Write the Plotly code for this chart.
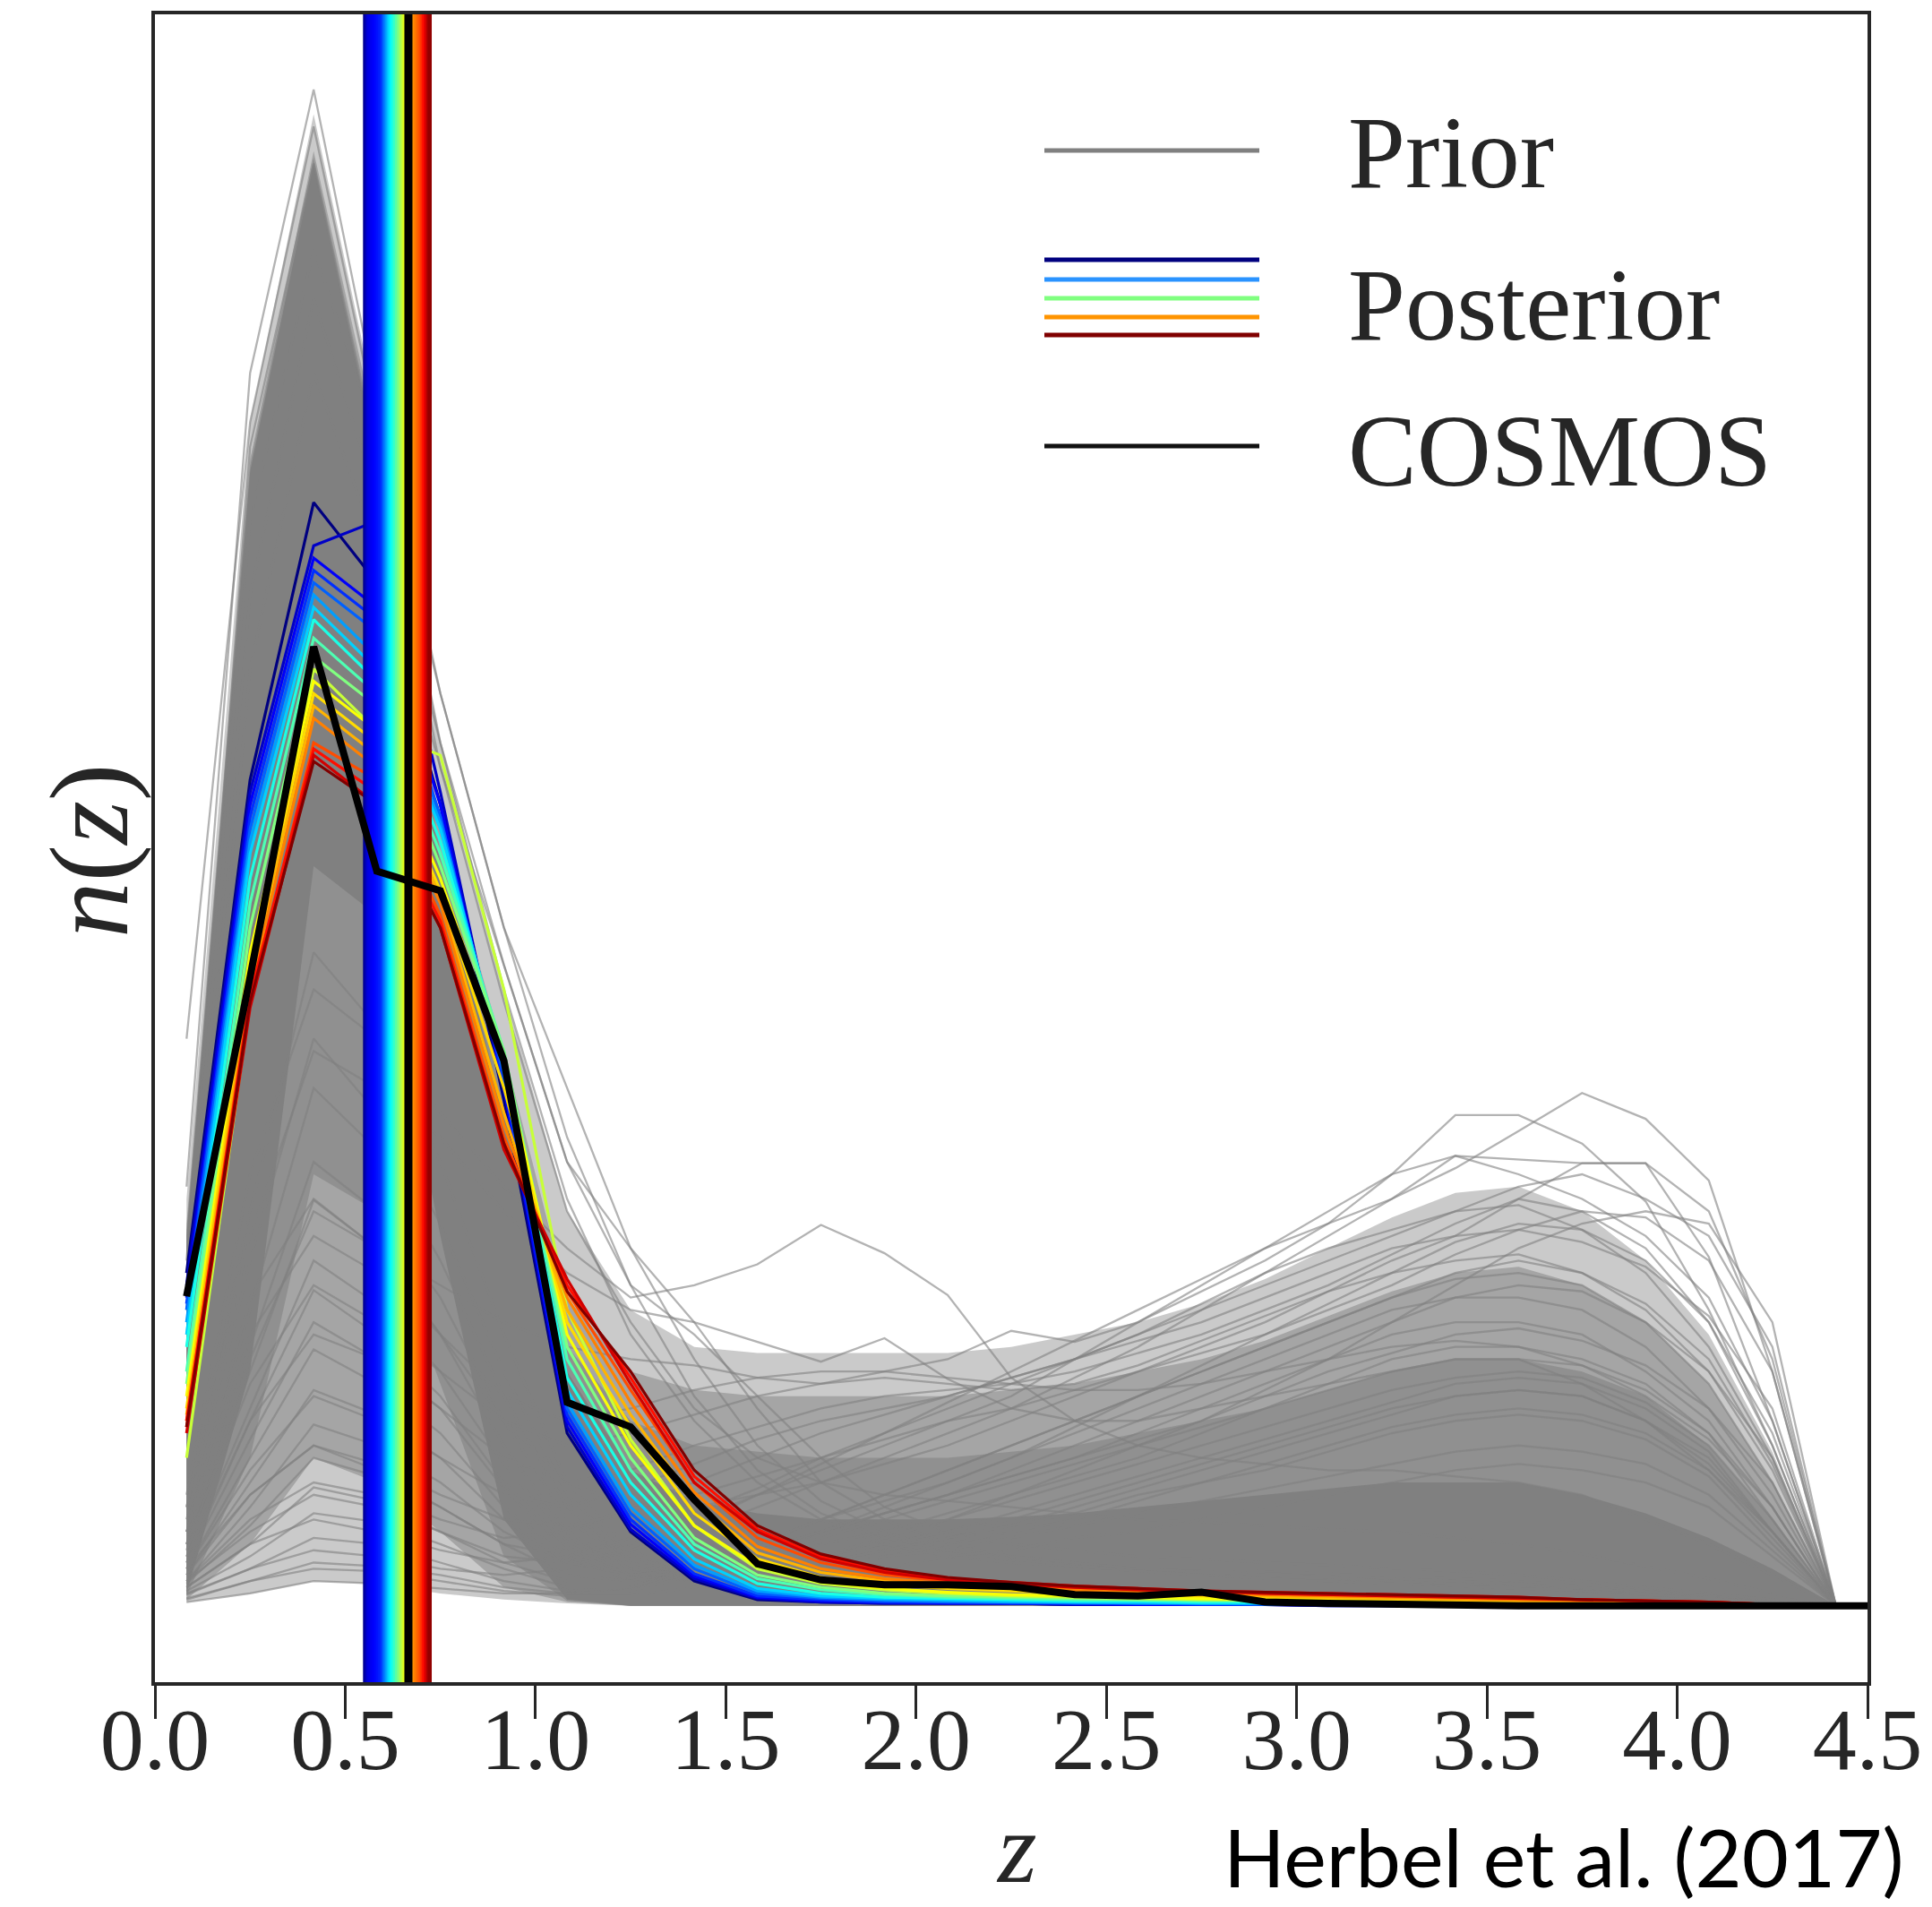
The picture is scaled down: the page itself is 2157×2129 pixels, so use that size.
import numpy as np
import plotly.graph_objects as go

# ---------------- data ----------------
z_bins = [0.083, 0.25, 0.417, 0.583, 0.75, 0.917, 1.083, 1.25, 1.417, 1.583, 1.75, 1.917,
          2.083, 2.25, 2.417, 2.583, 2.75, 2.917, 3.083, 3.25, 3.417, 3.583, 3.75, 3.917,
          4.083, 4.25, 4.417, 4.583]

cosmos_nz = [2.51, 5.1, 7.78, 5.96, 5.8, 4.42, 1.65, 1.45, 0.86, 0.34, 0.21, 0.17, 0.17, 0.155,
             0.09, 0.08, 0.11, 0.03, 0.02, 0.01, 0.01, 0.0, 0.0, 0.0, 0.0, 0.0, 0.0, 0.0]
cosmos_mean_z = 0.666

# envelopes of the prior ensemble at four densities
prior_outer_upper = [3.3, 9.6, 12.1, 9.7, 7.0, 5.0, 3.2, 2.4, 2.1, 2.05, 2.05, 2.05, 2.05, 2.1,
                     2.2, 2.3, 2.45, 2.65, 2.9, 3.15, 3.35, 3.4, 3.2, 2.8, 2.2, 1.25, 0.0, 0.0]
prior_outer_lower = [0.03, 0.1, 0.2, 0.18, 0.1, 0.05, 0.02, 0.0, 0.0, 0.0, 0.0, 0.0, 0.0, 0.0,
                     0.0, 0.0, 0.0, 0.0, 0.0, 0.0, 0.0, 0.0, 0.0, 0.0, 0.0, 0.0, 0.0, 0.0]
prior_mid_upper = [3.1, 9.3, 11.8, 9.5, 6.3, 4.5, 2.5, 1.9, 1.75, 1.7, 1.7, 1.7, 1.7, 1.75,
                   1.8, 1.9, 2.0, 2.15, 2.35, 2.55, 2.7, 2.75, 2.6, 2.3, 1.8, 1.0, 0.0, 0.0]
prior_mid_lower = [0.05, 0.5, 1.2, 1.0, 0.6, 0.15, 0.03, 0.0, 0.0, 0.0, 0.0, 0.0, 0.0, 0.0,
                   0.0, 0.0, 0.0, 0.0, 0.0, 0.0, 0.0, 0.0, 0.0, 0.0, 0.0, 0.0, 0.0, 0.0]
prior_core_upper = [3.05, 9.25, 11.75, 9.4, 6.1, 4.2, 2.1, 1.5, 1.3, 1.25, 1.2, 1.2, 1.2, 1.25,
                    1.3, 1.4, 1.5, 1.6, 1.75, 1.9, 2.0, 2.0, 1.9, 1.7, 1.3, 0.7, 0.0, 0.0]
prior_core_lower = [0.08, 1.2, 3.5, 3.2, 1.8, 0.4, 0.04, 0.0, 0.0, 0.0, 0.0, 0.0, 0.0, 0.0,
                    0.0, 0.0, 0.0, 0.0, 0.0, 0.0, 0.0, 0.0, 0.0, 0.0, 0.0, 0.0, 0.0, 0.0]
prior_dense_upper = [3.0, 9.2, 11.7, 9.3, 6.0, 4.0, 1.9, 1.1, 0.85, 0.75, 0.7, 0.7, 0.7, 0.72,
                     0.75, 0.8, 0.85, 0.9, 0.95, 1.0, 1.0, 1.0, 0.9, 0.75, 0.55, 0.3, 0.0, 0.0]
prior_dense_lower = [0.1, 1.9, 6.0, 5.6, 3.0, 0.7, 0.05, 0.0, 0.0, 0.0, 0.0, 0.0, 0.0, 0.0,
                     0.0, 0.0, 0.0, 0.0, 0.0, 0.0, 0.0, 0.0, 0.0, 0.0, 0.0, 0.0, 0.0, 0.0]

# individual prior draws that stand out of the ensemble
prior_T1 = [3.4, 10.0, 12.3, 9.8, 7.4, 5.5, 3.8, 2.6, 1.7, 1.1, 0.75, 0.55, 0.45, 0.4, 0.35, 0.3, 0.3, 0.28, 0.26, 0.24, 0.22, 0.2, 0.16, 0.12, 0.08, 0.04, 0.0, 0.0]
prior_T2 = [4.6, 9.6, 12.0, 9.6, 7.0, 5.0, 3.3, 2.2, 1.5, 1.0, 0.7, 0.5, 0.4, 0.35, 0.32, 0.3, 0.28, 0.26, 0.24, 0.22, 0.2, 0.18, 0.15, 0.1, 0.07, 0.03, 0.0, 0.0]
prior_T3 = [2.6, 9.4, 11.7, 9.3, 6.8, 5.2, 3.6, 2.9, 2.3, 1.6, 1.0, 0.7, 0.5, 0.4, 0.35, 0.3, 0.27, 0.25, 0.23, 0.2, 0.18, 0.15, 0.12, 0.09, 0.06, 0.03, 0.0, 0.0]
prior_R1 = [2.8, 8.8, 11.0, 9.5, 7.4, 5.5, 4.2, 2.9, 2.0, 1.3, 0.85, 0.6, 0.45, 0.38, 0.32, 0.28, 0.25, 0.22, 0.2, 0.18, 0.16, 0.14, 0.12, 0.09, 0.06, 0.03, 0.0, 0.0]
prior_R2 = [2.4, 8.2, 10.6, 9.0, 7.0, 5.2, 3.6, 2.6, 2.2, 1.7, 1.2, 0.8, 0.6, 0.5, 0.45, 0.4, 0.38, 0.35, 0.33, 0.3, 0.28, 0.25, 0.2, 0.15, 0.1, 0.05, 0.0, 0.0]
prior_R3 = [2.2, 7.6, 10.0, 8.6, 6.8, 4.9, 3.2, 2.3, 1.6, 1.2, 1.0, 0.9, 0.85, 0.8, 0.75, 0.7, 0.68, 0.65, 0.62, 0.6, 0.55, 0.5, 0.42, 0.32, 0.22, 0.1, 0.0, 0.0]
prior_A = [0.9, 3.5, 5.0, 4.6, 4.0, 3.4, 2.9, 2.5, 2.6, 2.77, 3.09, 2.86, 2.52, 1.85, 1.5, 1.3, 1.2, 1.15, 1.1, 1.1, 1.05, 1.0, 0.9, 0.7, 0.5, 0.25, 0.0, 0.0]
prior_B = [0.8, 3.0, 4.5, 4.2, 3.8, 3.2, 2.7, 2.4, 2.3, 2.14, 1.98, 2.17, 1.84, 1.6, 1.5, 1.5, 1.6, 1.7, 1.8, 1.9, 2.0, 2.0, 1.8, 1.5, 1.1, 0.6, 0.0, 0.0]
prior_C = [0.5, 2.0, 3.2, 2.9, 2.6, 2.3, 2.1, 2.0, 1.95, 1.85, 1.8, 1.9, 2.0, 2.23, 2.14, 2.3, 2.55, 2.8, 3.1, 3.5, 3.98, 3.98, 3.75, 3.28, 2.4, 1.3, 0.0, 0.0]
prior_D = [0.1, 0.3, 0.45, 0.4, 0.3, 0.25, 0.3, 0.45, 0.65, 0.9, 1.15, 1.4, 1.65, 1.9, 2.15, 2.4, 2.65, 2.9, 3.1, 3.3, 3.55, 3.85, 4.16, 3.95, 3.45, 1.9, 0.0, 0.0]
prior_E = [0.3, 0.9, 1.3, 1.1, 0.8, 0.5, 0.4, 0.5, 0.7, 0.9, 1.1, 1.3, 1.5, 1.7, 2.0, 2.3, 2.6, 2.9, 3.2, 3.5, 3.65, 3.62, 3.59, 3.59, 2.83, 1.5, 0.0, 0.0]
prior_F = [0.2, 0.6, 0.9, 0.8, 0.6, 0.4, 0.35, 0.45, 0.6, 0.8, 1.0, 1.2, 1.4, 1.6, 1.85, 2.1, 2.4, 2.7, 3.0, 3.3, 3.65, 3.5, 3.3, 3.0, 2.5, 1.5, 0.0, 0.0]
prior_G = [0.6, 2.5, 3.3, 2.9, 2.2, 1.5, 1.0, 0.8, 0.8, 0.9, 1.0, 1.15, 1.3, 1.5, 1.7, 1.9, 2.1, 2.3, 2.55, 2.8, 3.0, 3.3, 3.59, 3.59, 3.2, 2.0, 0.0, 0.0]
prior_H = [0.15, 0.5, 0.7, 0.6, 0.45, 0.35, 0.4, 0.55, 0.75, 0.95, 1.2, 1.4, 1.6, 1.8, 2.0, 2.2, 2.4, 2.6, 2.8, 3.0, 3.2, 3.4, 3.5, 3.3, 3.0, 2.1, 0.0, 0.0]
prior_I = [0.03, 0.1, 0.2, 0.18, 0.14, 0.1, 0.1, 0.15, 0.3, 0.5, 0.7, 0.9, 1.1, 1.3, 1.5, 1.7, 1.9, 2.1, 2.3, 2.5, 2.7, 2.8, 2.7, 2.4, 1.9, 1.1, 0.0, 0.0]
prior_J = [0.09, 0.3, 0.55, 0.5, 0.35, 0.2, 0.12, 0.15, 0.3, 0.5, 0.7, 0.9, 1.1, 1.3, 1.5, 1.7, 1.9, 2.1, 2.3, 2.5, 2.65, 2.7, 2.6, 2.3, 1.8, 1.0, 0.0, 0.0]
prior_K = [0.15, 0.5, 0.96, 0.85, 0.6, 0.35, 0.2, 0.2, 0.35, 0.5, 0.7, 0.85, 1.0, 1.2, 1.4, 1.6, 1.8, 2.0, 2.2, 2.4, 2.5, 2.5, 2.4, 2.1, 1.6, 0.9, 0.0, 0.0]
prior_L = [0.2, 0.8, 1.47, 1.3, 1.0, 0.6, 0.35, 0.25, 0.3, 0.45, 0.6, 0.75, 0.9, 1.05, 1.2, 1.4, 1.6, 1.8, 2.0, 2.2, 2.3, 2.3, 2.2, 1.9, 1.5, 0.8, 0.0, 0.0]
prior_M = [0.3, 1.2, 2.08, 1.8, 1.4, 0.8, 0.4, 0.2, 0.25, 0.35, 0.5, 0.6, 0.75, 0.9, 1.05, 1.2, 1.4, 1.6, 1.8, 2.0, 2.1, 2.1, 2.0, 1.8, 1.4, 0.7, 0.0, 0.0]
prior_N = [0.35, 1.5, 2.56, 2.2, 1.7, 1.0, 0.5, 0.25, 0.2, 0.3, 0.4, 0.5, 0.6, 0.75, 0.9, 1.05, 1.2, 1.35, 1.5, 1.65, 1.8, 1.85, 1.8, 1.6, 1.25, 0.6, 0.0, 0.0]
prior_O = [0.45, 1.9, 3.29, 2.9, 2.2, 1.3, 0.6, 0.3, 0.2, 0.25, 0.35, 0.45, 0.55, 0.65, 0.8, 0.95, 1.1, 1.25, 1.4, 1.55, 1.7, 1.75, 1.7, 1.5, 1.2, 0.6, 0.0, 0.0]
prior_P = [0.6, 2.4, 4.2, 3.7, 2.8, 1.7, 0.8, 0.35, 0.2, 0.2, 0.3, 0.4, 0.5, 0.6, 0.7, 0.85, 1.0, 1.1, 1.25, 1.4, 1.5, 1.55, 1.5, 1.35, 1.05, 0.5, 0.0, 0.0]
prior_Q = [0.05, 0.2, 0.3, 0.28, 0.2, 0.12, 0.08, 0.08, 0.15, 0.25, 0.4, 0.55, 0.7, 0.9, 1.1, 1.3, 1.5, 1.75, 2.0, 2.3, 2.6, 2.9, 3.1, 3.2, 3.1, 2.3, 0.0, 0.0]
prior_S1 = [0.06, 0.2, 0.35, 0.32, 0.25, 0.15, 0.1, 0.12, 0.25, 0.4, 0.6, 0.8, 1.0, 1.2, 1.45, 1.7, 1.95, 2.2, 2.45, 2.7, 2.95, 3.1, 3.05, 2.8, 2.3, 1.4, 0.0, 0.0]
prior_S2 = [0.12, 0.4, 0.75, 0.68, 0.5, 0.3, 0.15, 0.15, 0.3, 0.45, 0.6, 0.75, 0.9, 1.1, 1.3, 1.5, 1.7, 1.9, 2.1, 2.3, 2.5, 2.6, 2.55, 2.3, 1.9, 1.2, 0.0, 0.0]
prior_S3 = [0.18, 0.65, 1.2, 1.05, 0.8, 0.5, 0.25, 0.2, 0.3, 0.45, 0.6, 0.75, 0.9, 1.05, 1.2, 1.35, 1.5, 1.7, 1.9, 2.05, 2.2, 2.25, 2.15, 1.95, 1.6, 1.0, 0.0, 0.0]
prior_S4 = [0.25, 1.0, 1.75, 1.55, 1.2, 0.7, 0.35, 0.25, 0.3, 0.4, 0.55, 0.7, 0.85, 1.0, 1.15, 1.3, 1.45, 1.6, 1.75, 1.9, 2.0, 2.0, 1.95, 1.75, 1.4, 0.8, 0.0, 0.0]
prior_S5 = [0.35, 1.35, 2.3, 2.0, 1.6, 0.95, 0.45, 0.25, 0.25, 0.35, 0.5, 0.6, 0.7, 0.85, 1.0, 1.15, 1.3, 1.45, 1.6, 1.75, 1.85, 1.9, 1.85, 1.65, 1.3, 0.7, 0.0, 0.0]
prior_S6 = [0.4, 1.6, 2.8, 2.45, 1.9, 1.15, 0.55, 0.3, 0.25, 0.3, 0.4, 0.5, 0.6, 0.7, 0.85, 1.0, 1.15, 1.3, 1.45, 1.6, 1.7, 1.75, 1.7, 1.5, 1.15, 0.6, 0.0, 0.0]
prior_S7 = [0.5, 2.1, 3.6, 3.2, 2.5, 1.5, 0.7, 0.35, 0.25, 0.3, 0.35, 0.45, 0.55, 0.65, 0.75, 0.9, 1.0, 1.15, 1.3, 1.45, 1.55, 1.6, 1.55, 1.4, 1.1, 0.55, 0.0, 0.0]
prior_S8 = [0.7, 2.8, 4.6, 4.0, 3.1, 1.9, 0.9, 0.4, 0.25, 0.25, 0.3, 0.4, 0.45, 0.55, 0.65, 0.75, 0.85, 0.95, 1.05, 1.15, 1.25, 1.3, 1.25, 1.15, 0.9, 0.45, 0.0, 0.0]
prior_S9 = [0.8, 3.2, 5.3, 4.7, 3.6, 2.2, 1.0, 0.45, 0.25, 0.2, 0.25, 0.3, 0.4, 0.45, 0.55, 0.6, 0.7, 0.8, 0.9, 1.0, 1.1, 1.15, 1.1, 1.0, 0.8, 0.4, 0.0, 0.0]
prior_U1 = [0.4, 1.5, 2.2, 2.0, 1.6, 1.2, 1.0, 1.1, 1.3, 1.45, 1.6, 1.7, 1.75, 1.8, 1.9, 2.05, 2.2, 2.4, 2.6, 2.85, 3.1, 3.3, 3.2, 2.9, 2.3, 1.3, 0.0, 0.0]
prior_U2 = [0.3, 1.1, 1.7, 1.5, 1.2, 0.9, 0.8, 0.95, 1.15, 1.35, 1.5, 1.6, 1.7, 1.85, 2.0, 2.2, 2.45, 2.7, 2.9, 3.05, 3.2, 3.25, 3.05, 2.7, 2.1, 1.2, 0.0, 0.0]
prior_U3 = [0.5, 1.8, 2.6, 2.3, 1.9, 1.5, 1.3, 1.4, 1.55, 1.7, 1.8, 1.85, 1.8, 1.75, 1.8, 1.95, 2.15, 2.35, 2.55, 2.7, 2.8, 2.85, 2.7, 2.45, 2.0, 1.15, 0.0, 0.0]
prior_U4 = [0.2, 0.7, 1.0, 0.9, 0.7, 0.55, 0.6, 0.8, 1.0, 1.2, 1.4, 1.55, 1.7, 1.85, 2.0, 2.15, 2.3, 2.5, 2.7, 2.9, 3.0, 3.05, 2.95, 2.75, 2.35, 1.6, 0.0, 0.0]
prior_U5 = [0.6, 2.2, 3.0, 2.7, 2.2, 1.7, 1.5, 1.6, 1.75, 1.85, 1.9, 1.9, 1.85, 1.8, 1.75, 1.75, 1.8, 1.9, 2.0, 2.1, 2.15, 2.1, 1.95, 1.7, 1.35, 0.8, 0.0, 0.0]
prior_U6 = [0.25, 0.9, 1.3, 1.15, 0.9, 0.7, 0.65, 0.75, 0.9, 1.05, 1.2, 1.35, 1.5, 1.6, 1.75, 1.9, 2.05, 2.2, 2.4, 2.6, 2.85, 3.05, 3.2, 3.15, 2.8, 1.9, 0.0, 0.0]

prior_draws = [prior_T1, prior_T2, prior_T3, prior_R1, prior_R2, prior_R3, prior_A, prior_B,
               prior_C, prior_D, prior_E, prior_F, prior_G, prior_H, prior_I, prior_J, prior_K,
               prior_L, prior_M, prior_N, prior_O, prior_P, prior_Q, prior_S1, prior_S2,
               prior_S3, prior_S4, prior_S5, prior_S6, prior_S7, prior_S8, prior_S9,
               prior_U1, prior_U2, prior_U3, prior_U4, prior_U5, prior_U6]

# posterior draws, ordered from low to high mean redshift
post_00 = [2.7, 6.7, 8.95, 8.3, 6.5, 4.1, 1.4, 0.6, 0.2, 0.05, 0.03, 0.02, 0.02, 0.02, 0.01, 0.01, 0.01, 0.01, 0.0, 0.0, 0.0, 0.0, 0.0, 0.0, 0.0, 0.0, 0.0, 0.0]
post_01 = [2.6, 6.6, 8.6, 8.8, 6.6, 4.2, 1.45, 0.62, 0.22, 0.06, 0.03, 0.02, 0.02, 0.02, 0.01, 0.01, 0.01, 0.01, 0.0, 0.0, 0.0, 0.0, 0.0, 0.0, 0.0, 0.0, 0.0, 0.0]
post_02 = [2.5, 6.5, 8.5, 8.1, 6.5, 4.2, 1.5, 0.66, 0.24, 0.07, 0.04, 0.03, 0.02, 0.02, 0.02, 0.01, 0.01, 0.01, 0.01, 0.0, 0.0, 0.0, 0.0, 0.0, 0.0, 0.0, 0.0, 0.0]
post_03 = [2.45, 6.4, 8.4, 8.0, 6.4, 4.25, 1.55, 0.7, 0.26, 0.08, 0.05, 0.03, 0.03, 0.02, 0.02, 0.02, 0.01, 0.01, 0.01, 0.0, 0.0, 0.0, 0.0, 0.0, 0.0, 0.0, 0.0, 0.0]
post_04 = [2.4, 6.3, 8.3, 7.9, 6.4, 4.3, 1.6, 0.75, 0.3, 0.1, 0.06, 0.04, 0.03, 0.03, 0.02, 0.02, 0.02, 0.01, 0.01, 0.01, 0.0, 0.0, 0.0, 0.0, 0.0, 0.0, 0.0, 0.0]
post_05 = [2.3, 6.2, 8.2, 7.7, 6.35, 4.35, 1.65, 0.8, 0.33, 0.12, 0.07, 0.05, 0.04, 0.03, 0.03, 0.02, 0.02, 0.02, 0.01, 0.01, 0.0, 0.0, 0.0, 0.0, 0.0, 0.0, 0.0, 0.0]
post_06 = [2.2, 6.1, 8.1, 7.6, 6.3, 4.4, 1.75, 0.9, 0.38, 0.14, 0.08, 0.06, 0.05, 0.04, 0.03, 0.03, 0.02, 0.02, 0.02, 0.01, 0.01, 0.0, 0.0, 0.0, 0.0, 0.0, 0.0, 0.0]
post_07 = [2.1, 5.9, 8.0, 7.5, 6.2, 4.45, 1.85, 1.0, 0.45, 0.18, 0.1, 0.07, 0.06, 0.05, 0.04, 0.04, 0.03, 0.03, 0.02, 0.02, 0.01, 0.01, 0.0, 0.0, 0.0, 0.0, 0.0, 0.0]
post_08 = [1.9, 5.7, 7.85, 7.4, 6.1, 4.5, 2.0, 1.1, 0.5, 0.22, 0.13, 0.09, 0.07, 0.06, 0.05, 0.05, 0.04, 0.04, 0.03, 0.03, 0.02, 0.02, 0.01, 0.01, 0.0, 0.0, 0.0, 0.0]
post_09 = [1.8, 5.5, 7.7, 7.3, 6.0, 4.5, 2.1, 1.2, 0.55, 0.25, 0.15, 0.1, 0.08, 0.07, 0.06, 0.05, 0.05, 0.04, 0.04, 0.03, 0.03, 0.02, 0.02, 0.01, 0.01, 0.0, 0.0, 0.0]
post_10 = [1.2, 4.9, 7.6, 7.1, 6.9, 5.0, 2.4, 1.35, 0.65, 0.3, 0.18, 0.13, 0.1, 0.08, 0.07, 0.06, 0.05, 0.05, 0.04, 0.04, 0.03, 0.03, 0.02, 0.02, 0.01, 0.01, 0.0, 0.0]
post_11 = [1.7, 5.3, 7.5, 7.1, 5.9, 4.4, 2.2, 1.3, 0.65, 0.32, 0.19, 0.14, 0.11, 0.09, 0.08, 0.07, 0.06, 0.05, 0.05, 0.04, 0.04, 0.03, 0.02, 0.02, 0.01, 0.01, 0.0, 0.0]
post_12 = [1.6, 5.2, 7.4, 7.0, 5.8, 4.2, 2.3, 1.45, 0.75, 0.38, 0.23, 0.17, 0.14, 0.12, 0.1, 0.09, 0.08, 0.07, 0.06, 0.05, 0.05, 0.04, 0.03, 0.02, 0.02, 0.01, 0.0, 0.0]
post_13 = [1.55, 5.1, 7.3, 6.9, 5.75, 4.0, 2.4, 1.55, 0.85, 0.43, 0.27, 0.2, 0.16, 0.14, 0.12, 0.1, 0.09, 0.08, 0.07, 0.06, 0.05, 0.04, 0.03, 0.03, 0.02, 0.01, 0.0, 0.0]
post_14 = [1.5, 5.0, 7.2, 6.8, 5.7, 3.9, 2.5, 1.65, 0.92, 0.48, 0.3, 0.22, 0.18, 0.15, 0.13, 0.11, 0.1, 0.09, 0.08, 0.07, 0.06, 0.05, 0.04, 0.03, 0.02, 0.01, 0.0, 0.0]
post_15 = [1.45, 4.9, 7.0, 6.7, 5.6, 3.8, 2.55, 1.75, 1.0, 0.55, 0.35, 0.25, 0.2, 0.17, 0.15, 0.13, 0.11, 0.1, 0.09, 0.08, 0.07, 0.06, 0.05, 0.04, 0.03, 0.01, 0.0, 0.0]
post_16 = [1.5, 4.95, 6.95, 6.6, 5.55, 3.75, 2.6, 1.85, 1.05, 0.62, 0.4, 0.28, 0.22, 0.19, 0.16, 0.14, 0.12, 0.11, 0.1, 0.09, 0.08, 0.07, 0.05, 0.04, 0.03, 0.01, 0.0, 0.0]
post_17 = [1.4, 4.85, 6.9, 6.5, 5.5, 3.7, 2.65, 1.8, 1.0, 0.6, 0.38, 0.27, 0.21, 0.18, 0.15, 0.13, 0.12, 0.1, 0.09, 0.08, 0.07, 0.06, 0.05, 0.04, 0.03, 0.01, 0.0, 0.0]
post_18 = [1.45, 4.9, 6.85, 6.5, 5.5, 3.75, 2.55, 1.9, 1.1, 0.65, 0.42, 0.3, 0.23, 0.19, 0.16, 0.14, 0.12, 0.11, 0.1, 0.09, 0.08, 0.07, 0.05, 0.04, 0.03, 0.01, 0.0, 0.0]

posterior_draws = [post_00, post_01, post_02, post_03, post_04, post_05, post_06, post_07,
                   post_08, post_09, post_10, post_11, post_12, post_13, post_14, post_15,
                   post_16, post_17, post_18]

# mean redshift of posterior draws (vertical lines)
posterior_mean_z = [0.552, 0.556, 0.561, 0.566, 0.571, 0.576, 0.581, 0.586, 0.591, 0.596,
                    0.601, 0.606, 0.611, 0.616, 0.621, 0.626, 0.631, 0.636, 0.641, 0.646,
                    0.651, 0.656, 0.661, 0.666, 0.671, 0.676, 0.681, 0.686, 0.691, 0.696,
                    0.701, 0.706, 0.711, 0.715, 0.719, 0.722]

x_ticks = [0.0, 0.5, 1.0, 1.5, 2.0, 2.5, 3.0, 3.5, 4.0, 4.5]
x_tick_labels = ["0.0", "0.5", "1.0", "1.5", "2.0", "2.5", "3.0", "3.5", "4.0", "4.5"]

# ---------------- styling helpers ----------------
def jet(t):
    t = min(max(t, 0.0), 1.0)
    r = min(max(1.5 - abs(4 * t - 3), 0), 1)
    g = min(max(1.5 - abs(4 * t - 2), 0), 1)
    b = min(max(1.5 - abs(4 * t - 1), 0), 1)
    return "rgb(%d,%d,%d)" % (round(r * 255), round(g * 255), round(b * 255))

post_color_t = [0.0, 0.07, 0.12, 0.17, 0.22, 0.28, 0.33, 0.4, 0.45, 0.5, 0.57, 0.62,
                0.66, 0.7, 0.75, 0.8, 0.86, 0.92, 1.0]
band_knots_z = [0.550, 0.560, 0.595, 0.615, 0.642, 0.656, 0.677, 0.698, 0.712, 0.724]
band_knots_t = [0.0, 0.09, 0.16, 0.33, 0.5, 0.6, 0.72, 0.8, 0.9, 1.0]

GRAY = "#808080"
AXC = "#262626"

fig = go.Figure()

def band(upper, lower, color):
    xs = list(z_bins) + list(z_bins[::-1])
    ys = list(upper) + list(lower[::-1])
    fig.add_trace(go.Scatter(x=xs, y=ys, mode="lines", fill="toself", fillcolor=color,
                             line=dict(width=0, color=color), hoverinfo="skip",
                             showlegend=False))

band(prior_outer_upper, prior_outer_lower, "rgba(128,128,128,0.42)")
band(prior_mid_upper, prior_mid_lower, "rgba(128,128,128,0.5)")
band(prior_core_upper, prior_core_lower, "rgba(128,128,128,0.55)")
band(prior_dense_upper, prior_dense_lower, GRAY)

for d in prior_draws:
    fig.add_trace(go.Scatter(x=z_bins, y=d, mode="lines",
                             line=dict(color="rgba(128,128,128,0.6)", width=2.3),
                             hoverinfo="skip", showlegend=False))

for d, t in zip(posterior_draws, post_color_t):
    fig.add_trace(go.Scatter(x=z_bins, y=d, mode="lines",
                             line=dict(color=jet(t), width=3.2),
                             hoverinfo="skip", showlegend=False))

for m in posterior_mean_z:
    t = float(np.interp(m, band_knots_z, band_knots_t))
    fig.add_trace(go.Scatter(x=[m, m], y=[-5, 20], mode="lines",
                             line=dict(color=jet(t), width=4.5),
                             hoverinfo="skip", showlegend=False))

fig.add_trace(go.Scatter(x=[cosmos_mean_z, cosmos_mean_z], y=[-5, 20], mode="lines",
                         line=dict(color="black", width=9), hoverinfo="skip",
                         showlegend=False))

fig.add_trace(go.Scatter(x=z_bins, y=cosmos_nz, mode="lines",
                         line=dict(color="black", width=8), hoverinfo="skip",
                         showlegend=False))

# ---------------- layout ----------------
W, H = 2157, 2129
L, R, T, B = 173, 72, 16, 251
pw, ph = W - L - R, H - T - B

def px(x):
    return (x - L) / pw

def py(y):
    return (H - B - y) / ph

SERIF = "Liberation Serif, DejaVu Serif, serif"

fig.update_layout(
    width=W, height=H,
    margin=dict(l=L, r=R, t=T, b=B, pad=0),
    paper_bgcolor="white", plot_bgcolor="white",
    showlegend=False,
    xaxis=dict(range=[0, 4.5], tickvals=x_ticks, ticktext=x_tick_labels,
               ticks="outside", ticklen=37, tickwidth=3, tickcolor=AXC,
               ticklabelstandoff=-62,
               showline=True, linewidth=4, linecolor=AXC, mirror=True,
               showgrid=False, zeroline=False,
               tickfont=dict(family=SERIF, size=98, color=AXC)),
    yaxis=dict(range=[-0.62, 12.91], showticklabels=False, ticks="",
               showline=True, linewidth=4, linecolor=AXC, mirror=True,
               showgrid=False, zeroline=False),
)

shapes = []
lx0, lx1 = px(1166), px(1406)
shapes.append(dict(type="line", xref="paper", yref="paper", x0=lx0, x1=lx1,
                   y0=py(168), y1=py(168), line=dict(color=GRAY, width=5)))
leg_post_colors = ["#00007f", "#2a93ff", "#80ff80", "#ff9400", "#800000"]
for yy, c in zip([290, 312, 333, 354, 374], leg_post_colors):
    shapes.append(dict(type="line", xref="paper", yref="paper", x0=lx0, x1=lx1,
                       y0=py(yy), y1=py(yy), line=dict(color=c, width=5)))
shapes.append(dict(type="line", xref="paper", yref="paper", x0=lx0, x1=lx1,
                   y0=py(498), y1=py(498), line=dict(color="#111111", width=5)))
fig.update_layout(shapes=shapes)

ann = []
for txt, yy in [("Prior", 170), ("Posterior", 340), ("COSMOS", 503)]:
    ann.append(dict(text=txt, xref="paper", yref="paper", x=px(1503), y=py(yy),
                    xanchor="left", yanchor="middle", showarrow=False,
                    font=dict(family=SERIF, size=115, color=AXC)))
ann.append(dict(text="<i>z</i>", xref="paper", yref="paper", x=px(1135), y=py(2127),
                xanchor="center", yanchor="bottom", showarrow=False,
                font=dict(family=SERIF, size=112, color=AXC)))
ann.append(dict(text="<i>n</i>(<i>z</i>)", xref="paper", yref="paper", x=px(100), y=py(950),
                xanchor="center", yanchor="middle", showarrow=False, textangle=-90,
                font=dict(family=SERIF, size=125, color=AXC)))
ann.append(dict(text="Herbel et al. (2017)", xref="paper", yref="paper", x=px(2127),
                y=py(2128), xanchor="right", yanchor="bottom", showarrow=False,
                font=dict(family="Lato, Noto Sans, sans-serif", size=90, color="black")))
fig.update_layout(annotations=ann)

fig.write_html("out.html")
